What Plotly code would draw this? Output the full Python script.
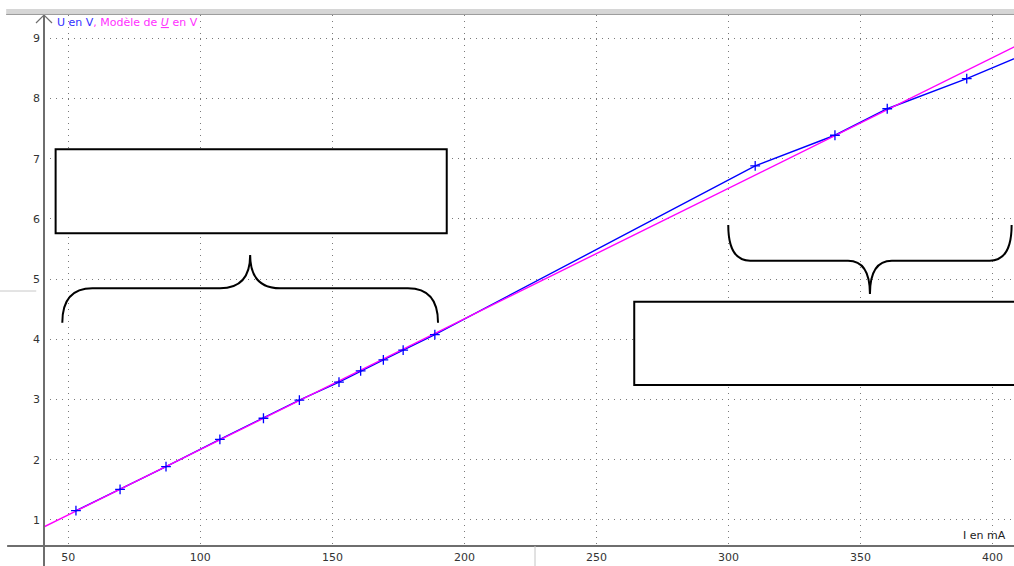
import plotly.graph_objects as go

# Measured current (mA) and voltage (V)
current_mA = [52.9, 69.6, 87.0, 107.4, 123.9, 137.5, 152.5, 160.7, 169.3, 176.8,
              188.8, 310.1, 340.3, 360.1, 390.2, 420.0]
voltage_V = [1.154, 1.51, 1.885, 2.34, 2.69, 2.99, 3.29, 3.475, 3.66, 3.82,
             4.08, 6.88, 7.39, 7.83, 8.33, 8.88]

# Linear model U = k * I (k in V/mA)
model_slope = 0.0217
model_current = [0.0, 450.0]
model_voltage = [model_slope * i for i in model_current]

x_ticks = [50, 100, 150, 200, 250, 300, 350, 400]
y_ticks = [1, 2, 3, 4, 5, 6, 7, 8, 9]

X_RANGE = [40.8, 408.1]
Y_RANGE = [0.568, 9.387]

BLUE = "#0000ff"
MAGENTA = "#ff00ff"
FONT = "DejaVu Sans"

fig = go.Figure()

fig.add_trace(go.Scatter(
    x=current_mA, y=voltage_V, mode="lines",
    line=dict(color=BLUE, width=1.4), hoverinfo="skip", showlegend=False,
))
fig.add_trace(go.Scatter(
    x=model_current, y=model_voltage, mode="lines",
    line=dict(color=MAGENTA, width=1.4), hoverinfo="skip", showlegend=False,
))
fig.add_trace(go.Scatter(
    x=current_mA, y=voltage_V, mode="markers",
    marker=dict(symbol="cross-thin", size=7, line=dict(color=BLUE, width=1.3)),
    hoverinfo="skip", showlegend=False,
))


def brace_path(x0, x1, y_end, y_bar, y_tip, rx):
    xc = (x0 + x1) / 2
    return (f"M {x0},{y_end} Q {x0},{y_bar} {x0 + rx},{y_bar} "
            f"L {xc - rx},{y_bar} Q {xc},{y_bar} {xc},{y_tip} "
            f"Q {xc},{y_bar} {xc + rx},{y_bar} "
            f"L {x1 - rx},{y_bar} Q {x1},{y_bar} {x1},{y_end}")


shapes = []
# Empty label boxes
shapes.append(dict(type="rect", xref="x", yref="y", x0=45.2, x1=193.3, y0=5.762, y1=7.157,
                   line=dict(color="black", width=2), fillcolor="white", layer="above"))
shapes.append(dict(type="rect", xref="x", yref="y", x0=264.3, x1=430.0, y0=3.242, y1=4.626,
                   line=dict(color="black", width=2), fillcolor="white", layer="above"))
# Curly braces
shapes.append(dict(type="path", xref="x", yref="y",
                   path=brace_path(47.73, 190.0, 4.277, 4.848, 5.401, 11.4),
                   line=dict(color="black", width=2), layer="above"))
shapes.append(dict(type="path", xref="x", yref="y",
                   path=brace_path(299.9, 407.2, 5.900, 5.307, 4.754, 8.3),
                   line=dict(color="black", width=2), layer="above"))

# Axis lines crossing each other, arrow on the vertical axis
AX = "#6e6e6e"
shapes.append(dict(type="line", xref="paper", yref="paper", x0=-0.038, x1=1.0, y0=0, y1=0,
                   line=dict(color=AX, width=2)))
shapes.append(dict(type="line", xref="paper", yref="paper", x0=0, x1=0, y0=-0.04, y1=1.0,
                   line=dict(color=AX, width=2)))
shapes.append(dict(type="path", xref="paper", yref="paper",
                   path="M -0.00825,0.98493 L 0,1.0 L 0.00825,0.98493",
                   line=dict(color=AX, width=1.2)))
# Window chrome: top bar and splitter marks
shapes.append(dict(type="rect", xref="paper", yref="paper", x0=-0.039, x1=1.0,
                   y0=1.0, y1=1.0113, fillcolor="#d6d6d6", line=dict(width=0)))
shapes.append(dict(type="line", xref="paper", yref="paper", x0=-0.039, x1=1.0,
                   y0=1.001, y1=1.001, line=dict(color="#9c9c9c", width=1)))
shapes.append(dict(type="line", xref="paper", yref="paper", x0=0.5062, x1=0.5062,
                   y0=0, y1=-0.04, line=dict(color="#c4c4c4", width=1)))
shapes.append(dict(type="line", xref="paper", yref="paper", x0=-0.046, x1=-0.008,
                   y0=0.4802, y1=0.4802, line=dict(color="#c8c8c8", width=1)))

annotations = [
    dict(xref="paper", yref="paper", x=0.01134, y=0.9868, xanchor="left", yanchor="middle",
         showarrow=False, font=dict(family=FONT, size=11),
         text=(f"<span style='color:#3030ff'>U en V</span>"
               f"<span style='color:#ff30ff'>, Modèle de <i><u>U</u></i> en V</span>")),
    dict(xref="paper", yref="paper", x=0.9938, y=0.0207, xanchor="right", yanchor="middle",
         showarrow=False, font=dict(family=FONT, size=11, color="#222222"),
         text="I en mA"),
]

axis_common = dict(
    showgrid=True, gridcolor="#7a7a7a", gridwidth=1, griddash="1px,5px",
    zeroline=False, showline=False, ticks="",
    tickfont=dict(family=FONT, size=11, color="#333333"),
    fixedrange=True,
)

fig.update_layout(
    width=1014, height=566,
    margin=dict(l=44, r=0, t=15, b=20),
    paper_bgcolor="white", plot_bgcolor="white",
    xaxis=dict(range=X_RANGE, tickvals=x_ticks, ticklabelstandoff=3, **axis_common),
    yaxis=dict(range=Y_RANGE, tickvals=y_ticks, ticklabelstandoff=3, **axis_common),
    shapes=shapes, annotations=annotations,
    showlegend=False,
)

fig.write_html("out.html")
